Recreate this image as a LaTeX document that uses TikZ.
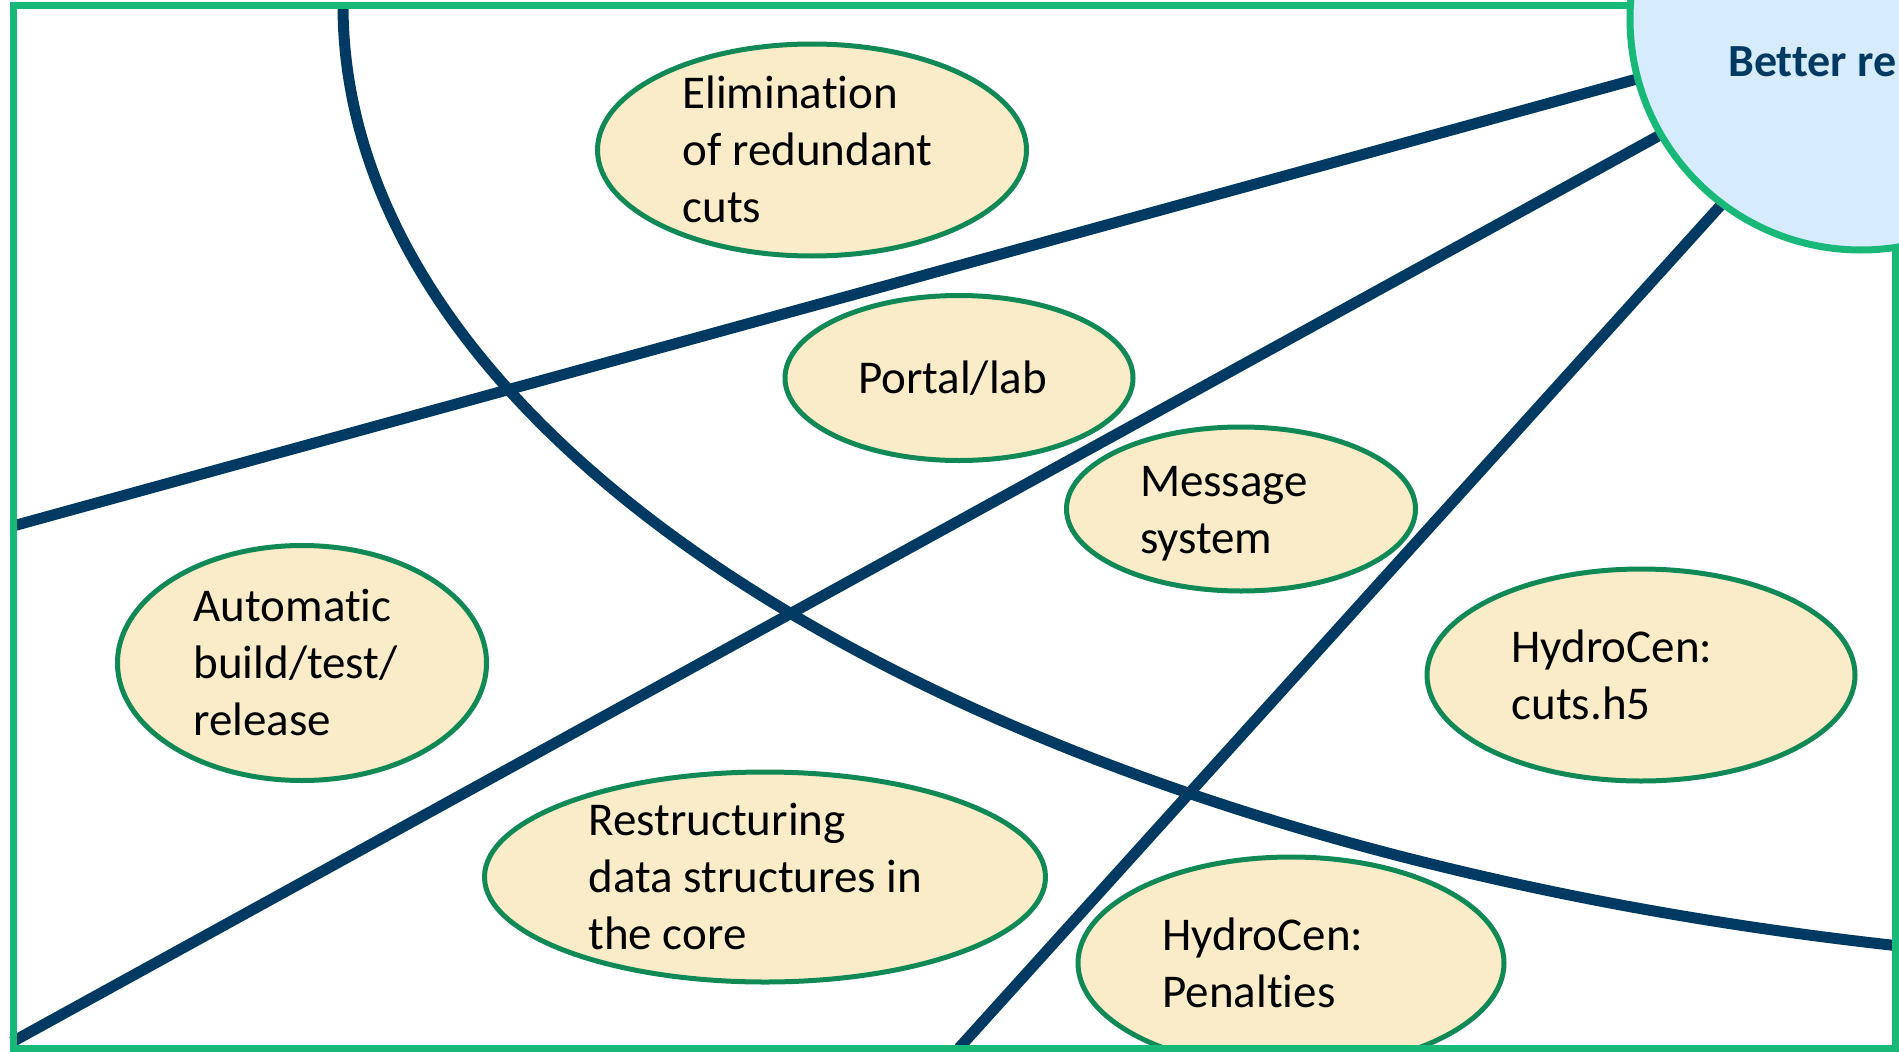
\documentclass[tikz,border=0pt]{standalone}
\usepackage{fontspec}
\setmainfont{Carlito}[Ligatures=NoCommon]
\usepackage{tikz}
\usetikzlibrary{shapes.geometric,positioning,calc}
\pgfdeclarelayer{background}
\pgfsetlayers{background,main}

\definecolor{navy}{RGB}{0,58,99}
\definecolor{frame}{RGB}{24,185,120}
\definecolor{ideaedge}{RGB}{16,137,86}
\definecolor{ideafill}{RGB}{250,236,200}
\definecolor{goalfill}{RGB}{214,235,252}
\newcommand{\ideastrut}{\rule[-13pt]{0pt}{57pt}}

\begin{document}
\begin{tikzpicture}[
            x=1pt, y=-1pt,
            idea/.style={ellipse,draw=ideaedge,fill=ideafill,line width=5pt,
                inner xsep=0pt,inner ysep=-30pt,align=flush left,
                font=\fontsize{47}{57}\selectfont,
                execute at begin node=\ideastrut,execute at end node=\ideastrut},
            goal/.style={circle,draw=frame,fill=goalfill,line width=7pt,
                minimum size=462pt,inner sep=0pt},
            goaltext/.style={inner sep=0pt,text=navy,font=\fontsize{46}{55}\selectfont\bfseries},
            link/.style={draw=navy,line width=11pt,shorten >=-20pt}
        ]
        \useasboundingbox (0,0) rectangle (1899,1052);
        \clip (0,0) rectangle (1899,1052);

        % Draw ideas %
        \node[idea,minimum width=429pt,minimum height=212pt,text width=259pt] (cuts) at (812,150) {Elimination\\of redundant\\cuts};
        \node[idea,minimum width=348pt,minimum height=165pt,text width=202pt] (portal) at (959,378) {Portal/lab};
        \node[idea,minimum width=349pt,minimum height=164pt,text width=202pt] (message) at (1241,509) {Message\\system};
        \node[idea,minimum width=369pt,minimum height=235pt,text width=217pt] (build) at (302,663) {Automatic\\build/test/\\release};
        \node[idea,minimum width=428pt,minimum height=212pt,text width=259pt] (hfive) at (1641,675) {HydroCen:\\cuts.h5};
        \node[idea,minimum width=561pt,minimum height=210pt,text width=353pt] (core) at (765,877) {Restructuring\\data structures in\\the core};
        \node[idea,minimum width=426pt,minimum height=212pt,text width=257pt] (penalties) at (1291,963) {HydroCen:\\Penalties};

        % Draw arc %
        \coordinate (arcstart) at (343,5);
        \draw[navy,line width=11pt] (arcstart) arc[start angle=180,end angle=101,x radius=2000,y radius=965];

        % Draw frame %
        \draw[frame,line width=7pt] (13.5,5.5) rectangle (1895,1048);

        % Draw goal %
        \node[goal] (goal) at (1861,19) {};
        \node[goaltext,anchor=base west] (goallabel) at (1728,76) {Better re};

        % Draw rays %
        \coordinate (w1) at (13,526);
        \coordinate (w2) at (12,1042);
        \coordinate (s3) at (959,1048);
        \begin{pgfonlayer}{background}
            \draw[link] (w1) -- (goal.195);
            \draw[link] (w2) -- (goal.210);
            \draw[link] (s3) -- (goal.233);
        \end{pgfonlayer}
\end{tikzpicture}
\end{document}
